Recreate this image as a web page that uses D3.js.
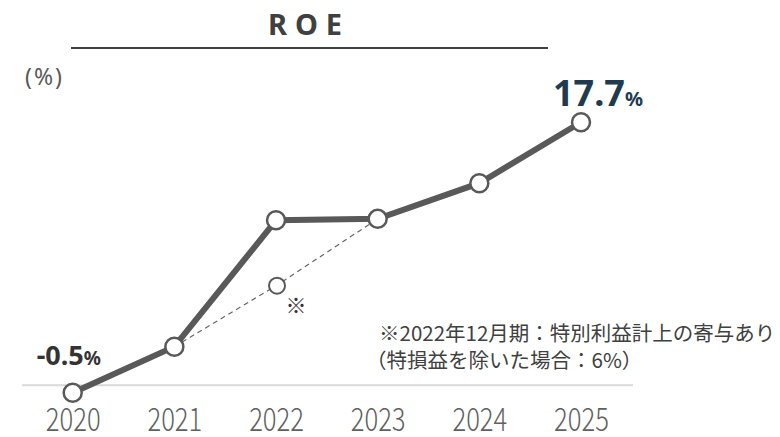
<!DOCTYPE html>
<html>
<head>
<meta charset="utf-8">
<script src="https://cdn.jsdelivr.net/npm/d3@7"></script>
<style>
    html, body { margin: 0; padding: 0; background: #fff; }
    svg { display: block; font-family: "Noto Sans CJK JP", "Noto Sans", sans-serif; }
</style>
</head>
<body>
<div id="chart"></div>
<script>
// ===========================
// ROE line chart
// ===========================

const years = ['2020', '2021', '2022', '2023', '2024', '2025'];
const roeValues = [-0.5, 2.6, 11.1, 11.2, 13.6, 17.7];

// 2022 excluding extraordinary gains (dashed path 2021 -> 2022 alt -> 2023)
const adjYears = ['2021', '2022', '2023'];
const adjValues = [2.6, 6.7, 11.2];

const width = 780;
const height = 437;
const lineColor = '#595959';

const svg = d3.select('#chart')
    .append('svg')
    .attr('width', width)
    .attr('height', height);

const xScale = d3.scalePoint()
    .domain(years)
    .range([72.7, 581]);

const yScale = d3.scaleLinear()
    .domain([0, 20])
    .range([385.3, 385.3 - 20 * 14.86]);

// title
svg.append('text')
    .attr('x', 309)
    .attr('y', 35)
    .attr('text-anchor', 'middle')
    .style('font-family', '"Noto Sans", sans-serif')
    .style('font-size', '29px')
    .style('font-weight', '700')
    .style('letter-spacing', '8px')
    .style('fill', '#404040')
    .text('ROE');

svg.append('line')
    .attr('x1', 71).attr('x2', 548)
    .attr('y1', 48).attr('y2', 48)
    .attr('stroke', '#404040')
    .attr('stroke-width', 2);

// unit
svg.append('text')
    .attr('x', 25)
    .attr('y', 85)
    .style('font-family', '"Noto Sans", sans-serif')
    .style('font-size', '23px')
    .style('letter-spacing', '2px')
    .style('fill', '#595959')
    .text('(%)');

// zero line
svg.append('line')
    .attr('x1', 22).attr('x2', 633)
    .attr('y1', yScale(0)).attr('y2', yScale(0))
    .attr('stroke', '#d9d9d9')
    .attr('stroke-width', 2);

// x axis
const xAxis = svg.append('g')
    .attr('transform', `translate(0,${yScale(0)})`)
    .call(d3.axisBottom(xScale).tickSize(0).tickPadding(23));

xAxis.select('.domain').remove();
xAxis.selectAll('text')
    .attr('transform', 'scale(0.8,1)')
    .attr('dy', '0.71em')
    .style('font-family', '"Noto Sans CJK JP", sans-serif')
    .style('font-size', '32px')
    .style('font-weight', '300')
    .style('fill', '#606060');

// dashed adjusted path
const adjData = adjYears.map((y, i) => ({ year: y, value: adjValues[i] }));
svg.append('path')
    .datum(adjData)
    .attr('fill', 'none')
    .attr('stroke', '#666')
    .attr('stroke-width', 1.2)
    .attr('stroke-dasharray', '5,4')
    .attr('d', d3.line().x(d => xScale(d.year)).y(d => yScale(d.value)));

svg.append('circle')
    .attr('cx', xScale('2022') + 1)
    .attr('cy', yScale(adjValues[1]))
    .attr('r', 8)
    .attr('fill', '#fff')
    .attr('stroke', lineColor)
    .attr('stroke-width', 2);

svg.append('text')
    .attr('x', xScale('2022') + 20)
    .attr('y', yScale(adjValues[1]) + 27)
    .attr('text-anchor', 'middle')
    .style('font-size', '21px')
    .style('fill', '#333')
    .text('※');

// main line
const data = years.map((y, i) => ({ year: y, value: roeValues[i] }));

svg.append('path')
    .datum(data)
    .attr('fill', 'none')
    .attr('stroke', lineColor)
    .attr('stroke-width', 6)
    .attr('d', d3.line().x(d => xScale(d.year)).y(d => yScale(d.value)));

svg.selectAll('.pt')
    .data(data)
    .join('circle')
    .attr('class', 'pt')
    .attr('cx', d => xScale(d.year))
    .attr('cy', d => yScale(d.value))
    .attr('r', 9)
    .attr('fill', '#fff')
    .attr('stroke', lineColor)
    .attr('stroke-width', 2.5);

// value labels (plain hyphen for the negative value, as in the source)
const fmt = v => (v < 0 ? '-' : '') + Math.abs(v).toFixed(1);

const last = data[data.length - 1];
const lastLabel = svg.append('text')
    .attr('x', xScale(last.year) - 28)
    .attr('y', yScale(last.value) - 16)
    .style('font-family', '"Noto Sans", sans-serif')
    .style('font-weight', '700')
    .style('fill', '#213a4f');
lastLabel.append('tspan').style('font-size', '36px').text(fmt(last.value));
lastLabel.append('tspan').style('font-size', '20px').text('%');

const first = data[0];
const firstLabel = svg.append('text')
    .attr('x', xScale(first.year) - 36)
    .attr('y', yScale(first.value) - 28)
    .style('font-family', '"Noto Sans", sans-serif')
    .style('font-weight', '700')
    .style('fill', '#333');
firstLabel.append('tspan').style('font-size', '27px').text(fmt(first.value));
firstLabel.append('tspan').style('font-size', '19px').text('%');

// note
const note = svg.append('text')
    .style('font-family', '"Noto Sans CJK JP", sans-serif')
    .style('font-size', '20.5px')
    .style('fill', '#404040');
note.append('tspan').attr('x', 379).attr('y', 341).text('※2022年12月期：特別利益計上の寄与あり');
note.append('tspan').attr('x', 366).attr('y', 368).text('（特損益を除いた場合：6%）');
</script>
</body>
</html>
